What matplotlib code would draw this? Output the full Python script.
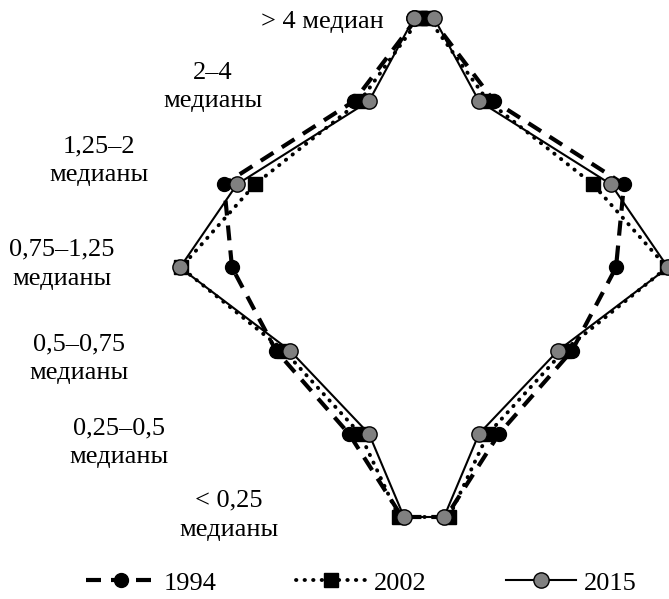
import matplotlib
matplotlib.use("Agg")
import matplotlib.pyplot as plt
import numpy as np

plt.rcParams["font.family"] = ["Liberation Serif", "DejaVu Serif"]

# income groups, top to bottom
groups = ["> 4 медиан", "2–4\nмедианы", "1,25–2\nмедианы", "0,75–1,25\nмедианы",
          "0,5–0,75\nмедианы", "0,25–0,5\nмедианы", "< 0,25\nмедианы"]
# half-width of the shape for each group (shares, arbitrary units as read)
v1994 = [0.7, 7.0, 20.0, 19.2, 14.8, 7.5, 2.2]
v2002 = [0.4, 6.4, 16.9, 24.3, 14.0, 6.4, 2.5]
v2015 = [1.0, 5.5, 18.7, 24.4, 13.4, 5.5, 2.0]

# label positions (x in data units, y offset from group row)
label_x = [-10.2, -21.1, -32.5, -36.2, -34.5, -30.5, -19.5]
label_y = [0.05, -0.17, -0.28, -0.04, 0.10, 0.11, -0.02]

fig = plt.figure(figsize=(6.69, 5.99), dpi=100)
ax = fig.add_axes([0, 0, 1, 1])
ax.set_xlim(-42.4, 24.5)
ax.set_ylim(6.986, -0.216)
ax.axis("off")

y = np.arange(len(groups))

st1994 = dict(color="black", lw=3.0, dashes=(3.6, 2.4), marker="o", ms=10,
              mfc="black", mec="black")
st2002 = dict(color="black", lw=2.8, linestyle=(0, (0.1, 2.1)), dash_capstyle="round",
              marker="s", ms=9.5, mfc="black", mec="black")
st2015 = dict(color="black", lw=1.5, marker="o", ms=11, mfc="#808080",
              mec="black", mew=1.0)


def shape(v):
    v = np.array(v)
    xs = np.concatenate([-v, v[::-1], [-v[0]]])
    ys = np.concatenate([y, y[::-1], [y[0]]])
    return xs, ys


x, yy = shape(v1994)
ax.plot(x, yy, zorder=2, **st1994)
x, yy = shape(v2002)
ax.plot(x, yy, zorder=3, **st2002)
x, yy = shape(v2015)
ax.plot(x, yy, zorder=4, **st2015)

for i, g in enumerate(groups):
    ax.text(label_x[i], i + label_y[i], g, ha="center", va="center", fontsize=19,
            linespacing=1.4, color="black")

# legend handles
h1, = ax.plot([], [], **st1994)
h2, = ax.plot([], [], **st2002)
h3, = ax.plot([], [], **st2015)
fig.legend([h1, h2, h3], ["1994", "2002", "2015"], loc="center",
           bbox_to_anchor=(0.54, 0.027), ncol=3, frameon=False, fontsize=19,
           handlelength=2.65, handletextpad=0.3, columnspacing=3.0,
           borderpad=0.1)

fig.savefig("out.png", dpi=100, facecolor="white")
